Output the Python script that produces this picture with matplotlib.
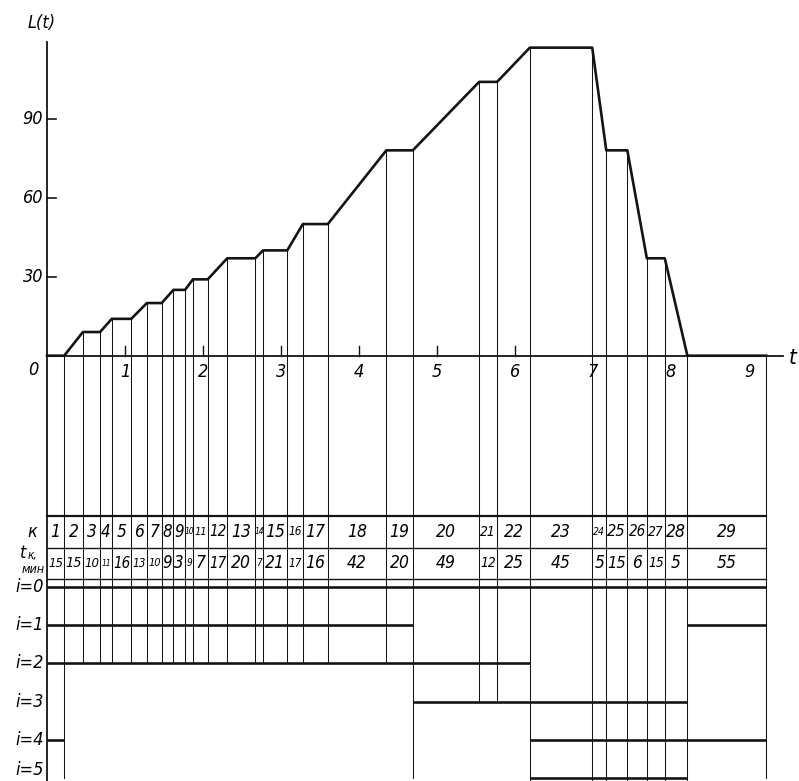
import matplotlib.pyplot as plt

plt.rcParams['font.family'] = ['DejaVu Sans']
plt.rcParams['font.style'] = 'italic'
plt.rcParams['font.stretch'] = 'condensed'

# table: column number k and duration t_k (min)
k_cols = list(range(1, 30))
t_min = [15, 15, 10, 11, 16, 13, 10, 9, 3, 9, 7, 17, 20, 7, 21, 17, 16,
         42, 20, 49, 12, 25, 45, 5, 15, 6, 15, 5, 55]

# column boundaries on the t axis (hours)
t_bounds = [0.0, 0.22, 0.46, 0.68, 0.83, 1.08, 1.28, 1.47, 1.62, 1.77,
            1.87, 2.06, 2.31, 2.67, 2.77, 3.08, 3.28, 3.60, 4.35, 4.69,
            5.54, 5.77, 6.19, 6.99, 7.17, 7.44, 7.69, 7.92, 8.21, 9.22]
# L(t) at each boundary
L_vals = [0, 0, 9, 9, 14, 14, 20, 20, 25, 25, 29, 29, 37, 37, 40, 40, 50, 50,
          78, 78, 104, 104, 117, 117, 78, 78, 37, 37, 0, 0]
# lowest level i reached by each boundary line
line_depth = [5.1, 5] + [2] * 17 + [5, 3, 3] + [5.1] * 7 + [5]

# state lines: (level i, first column, last column)
state_spans = [(0, 1, 29), (1, 1, 19), (1, 29, 29), (2, 1, 22),
               (3, 20, 28), (4, 1, 1), (4, 23, 29), (5, 23, 28)]
levels = [0, 1, 2, 3, 4, 5]

y_ticks = [30, 60, 90]
t_tick_marks = [1, 2, 3, 4, 5, 6]
t_tick_labels = [1, 2, 3, 4, 5, 6, 7, 8, 9]

W, H = 799, 781
X_LO, X_HI = -0.603, 9.641
px_per_h = W / (X_HI - X_LO)
INK = '#141414'

fig = plt.figure(figsize=(W / 100, H / 100), dpi=100)
ax = fig.add_axes([0, 266 / H, 1, 515 / H])
ax.set_xlim(X_LO, X_HI)
ax.set_ylim(-60.5, 135.1)
ax.axis('off')
ax2 = fig.add_axes([0, 0, 1, 266 / H])
ax2.set_xlim(X_LO, X_HI)
ax2.set_ylim(5.08, -1.885)
ax2.axis('off')

# --- upper graph ---
ax.plot([0, 0], [-60.5, 119], color=INK, lw=1.3, clip_on=False)
ax.plot([0, 9.44], [0, 0], color=INK, lw=1.3)
for t, L in zip(t_bounds[1:], L_vals[1:]):
    ax.plot([t, t], [L, -60.5], color=INK, lw=0.75, clip_on=False)
ax.plot(t_bounds, L_vals, color=INK, lw=1.9)

for v in y_ticks:
    ax.plot([0, 0.115], [v, v], color=INK, lw=1.2)
    ax.text(-0.05, v, str(v), ha='right', va='center', fontsize=13)
ax.text(-0.18, -5.6, '0', ha='center', va='center', fontsize=13)
for k in t_tick_marks:
    ax.plot([k, k], [0, 3.8], color=INK, lw=1.0)
for k in t_tick_labels:
    ax.text(k, -6.2, str(k), ha='center', va='center', fontsize=13)
ax.text(9.56, -0.9, 't', ha='center', va='center', fontsize=16)
ax.text(-0.07, 126.5, 'L(t)', ha='center', va='center', fontsize=13)

# --- table and state diagram ---
t_end = t_bounds[-1]
ax2.plot([0, t_end], [-1.87, -1.87], color=INK, lw=1.6, clip_on=False)
ax2.plot([0, t_end], [-1.02, -1.02], color=INK, lw=1.0)
ax2.plot([0, t_end], [-0.21, -0.21], color=INK, lw=1.0)
for t, d in zip(t_bounds, line_depth):
    ax2.plot([t, t], [-1.885, d], color=INK, lw=1.3 if t == 0 else 0.75,
             clip_on=False)

for k, tm in zip(k_cols, t_min):
    a, b = t_bounds[k - 1], t_bounds[k]
    xc = (a + b) / 2
    w_px = (b - a) * px_per_h
    for val, yy in ((k, -1.45), (tm, -0.62)):
        s = str(val)
        fs = min(12.5, max(6, (w_px - 2) / (len(s) * 0.58 * 1.389)))
        ax2.text(xc, yy, s, ha='center', va='center', fontsize=fs)

for lvl, k0, k1 in state_spans:
    ax2.plot([t_bounds[k0 - 1], t_bounds[k1]], [lvl, lvl], color=INK,
             lw=1.9, solid_capstyle='butt', clip_on=False)

ax2.text(-0.19, -1.45, 'к', ha='center', va='center', fontsize=13)
ax2.text(-0.3, -0.9, 't', ha='center', va='center', fontsize=13)
ax2.text(-0.19, -0.82, 'к,', ha='center', va='center', fontsize=8.5)
ax2.text(-0.03, -0.46, 'мин', ha='right', va='center', fontsize=9)
for lvl in levels:
    yy = min(lvl, 4.78)
    ax2.text(-0.04, yy, f'i={lvl}', ha='right', va='center', fontsize=13)

fig.savefig('out.png', dpi=100, facecolor='white')
plt.close(fig)
